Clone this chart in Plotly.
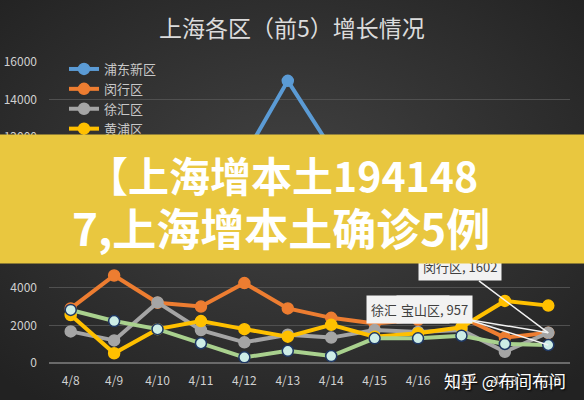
import base64
import plotly.graph_objects as go

# ---- data ----
dates = ["4/8", "4/9", "4/10", "4/11", "4/12", "4/13", "4/14", "4/15", "4/16", "4/17", "4/18", "4/19"]
pudong = [7200, 7600, 8000, 7700, 11000, 15000, 11400, 9000, 7800, 8200, 7200, 7000]
minhang = [2900, 4650, 3200, 3000, 4250, 2900, 2400, 2100, 2300, 2450, 1350, 1602]
xuhui = [1680, 1200, 3220, 1750, 1100, 1500, 1350, 1750, 1650, 1750, 600, 1610]
huangpu = [2550, 520, 1800, 2230, 1800, 1400, 2030, 1400, 1580, 1900, 3300, 3050]
baoshan = [2820, 2230, 1800, 1050, 300, 650, 370, 1310, 1310, 1450, 1010, 957]
series_names = ["浦东新区", "闵行区", "徐汇区", "黄浦区", "宝山区"]
y_ticks = [0, 2000, 4000, 6000, 8000, 10000, 12000, 14000, 16000]

title_text = "上海各区（前5）增长情况"
banner_line1 = "【上海增本土194148"
banner_line2 = "7,上海增本土确诊5例"
watermark = "知乎 @布间布问"

W, H = 584, 400
ML, MR, MT, MB = 49, 14, 62, 37
PW, PH = W - ML - MR, H - MT - MB


def px(x):
    return (x - ML) / PW


def py(y):
    return 1 - (y - MT) / PH


series = [
    (pudong, "#5B9BD5", "#5B9BD5", "#5B9BD5"),
    (minhang, "#ED7D31", "#ED7D31", "#ED7D31"),
    (xuhui, "#A5A5A5", "#A5A5A5", "#A5A5A5"),
    (huangpu, "#FFC000", "#FFC000", "#FFC000"),
    (baoshan, "#A9D18E", "#CDEDE6", "#1F3864"),
]

fig = go.Figure()
for name, (vals, lc, mf, ml) in zip(series_names, series):
    fig.add_trace(go.Scatter(
        x=dates, y=vals, name=name, mode="lines+markers",
        line=dict(color=lc, width=4),
        marker=dict(size=11, color=mf, line=dict(color=ml, width=1.5)),
    ))

# radial gradient background
svg = f"""<svg xmlns='http://www.w3.org/2000/svg' width='{W}' height='{H}'>
<defs><radialGradient id='g' cx='50%' cy='45%' r='70%'>
<stop offset='0%' stop-color='#424242'/><stop offset='100%' stop-color='#222222'/>
</radialGradient></defs><rect width='{W}' height='{H}' fill='url(#g)'/></svg>"""
src = "data:image/svg+xml;base64," + base64.b64encode(svg.encode()).decode()

ann = []
callouts = [
    ("徐汇区, 1610", xuhui[-1], -140, -23),
    ("宝山区, 957", baoshan[-1], -114, -36),
    ("闵行区, 1602", minhang[-1], -88, -66),
]
for txt, val, ax, ay in callouts:
    ann.append(dict(
        x=dates[-1], y=val, xref="x", yref="y", text=txt, showarrow=True,
        ax=ax, ay=ay, arrowhead=0, arrowwidth=1.5, arrowcolor="#F2F2F2",
        bgcolor="#F2F2F2", borderpad=4, xanchor="center", yanchor="middle",
        font=dict(size=13, color="#404040", family="Noto Sans CJK SC"),
    ))
# banner
ann.append(dict(x=px(292), y=py(199), xref="paper", yref="paper", text=" ",
                showarrow=False, width=620, height=128, bgcolor="#E9C73F",
                borderpad=0, xanchor="center", yanchor="middle"))
ann.append(dict(x=px(480), y=py(174), xref="paper", yref="paper",
                xanchor="right", yanchor="middle",
                text="<b>" + banner_line1 + "</b>", showarrow=False,
                font=dict(size=41, color="white", family="Noto Sans CJK SC")))
ann.append(dict(x=px(70), y=py(227), xref="paper", yref="paper",
                xanchor="left", yanchor="middle",
                text="<b>" + banner_line2 + "</b>", showarrow=False,
                font=dict(size=44, color="white", family="Noto Sans CJK SC")))
# watermark
ann.append(dict(x=px(505), y=py(380), xref="paper", yref="paper",
                xanchor="center", yanchor="middle",
                text=watermark, showarrow=False,
                font=dict(size=17, color="white", family="Noto Sans CJK SC",
                          shadow="1px 1px 2px #000")))

fig.update_layout(
    width=W, height=H,
    margin=dict(l=ML, r=MR, t=MT, b=MB),
    paper_bgcolor="#2e2e2e", plot_bgcolor="rgba(0,0,0,0)",
    font=dict(family="Noto Sans CJK SC", color="#D0D0D0"),
    title=dict(text=title_text, x=0.5, xanchor="center", y=1 - 29 / H,
               yanchor="middle", font=dict(size=23, color="#DCDCDC")),
    images=[dict(source=src, xref="paper", yref="paper", x=-ML / PW,
                 y=1 + MT / PH, sizex=W / PW, sizey=H / PH,
                 xanchor="left", yanchor="top", sizing="stretch",
                 layer="below")],
    showlegend=True,
    legend=dict(x=px(64), y=py(54), xanchor="left", yanchor="top",
                bgcolor="rgba(0,0,0,0)", font=dict(size=13, color="#C8C8C8"),
                tracegroupgap=0, itemwidth=30),
    annotations=ann,
    xaxis=dict(type="category", range=[-0.5, len(dates) - 0.5], showgrid=False,
               zeroline=False, showline=False, ticks="", ticklabelstandoff=9,
               automargin=False,
               tickfont=dict(size=12, color="#D0D0D0"), fixedrange=True),
    yaxis=dict(range=[0, 16000], tickvals=y_ticks, tickformat="d",
               showgrid=True, gridcolor="#505050", gridwidth=1, zeroline=True,
               zerolinecolor="#6a6a6a", zerolinewidth=1.5, ticks="",
               ticklabelstandoff=11, automargin=False,
               tickfont=dict(size=12, color="#D0D0D0"), fixedrange=True),
)
fig.write_html("out.html", config={"displayModeBar": False},
               post_script="document.body.style.margin='0';")
